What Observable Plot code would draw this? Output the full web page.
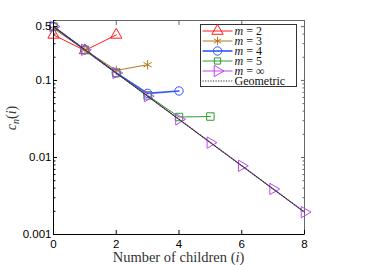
<!DOCTYPE html>
<html><head><meta charset="utf-8">
<script src="https://cdn.jsdelivr.net/npm/d3@7"></script>
<script src="https://cdn.jsdelivr.net/npm/@observablehq/plot@0.6"></script>
<style>body{margin:0;background:#fff}#c{position:relative;width:374px;height:265px}</style>
</head><body><div id="c"></div>
<script>
// ---- data ----
const seriesNames = ["m = 2", "m = 3", "m = 4", "m = 5", "m = ∞", "Geometric"];
const legendSuffix = ["2", "3", "4", "5", "∞"];
const m2 = [0.39, 0.245, 0.39];
const m3 = [0.47, 0.25, 0.135, 0.16];
const m4 = [0.5, 0.25, 0.125, 0.068, 0.073];
const m5 = [0.5, 0.25, 0.125, 0.064, 0.0335, 0.034];
const mInf = [0.5, 0.25, 0.125, 0.0625, 0.0313, 0.0156, 0.0078, 0.0039, 0.00195];
const geometric = [0.5, 0.25, 0.125, 0.0625, 0.03125, 0.015625, 0.0078125, 0.00390625, 0.001953125];
const xTicks = [0, 2, 4, 6, 8];
const yLabelTicks = [0.001, 0.01, 0.1, 0.5];
const yMinorTicks = [0.002,0.003,0.004,0.005,0.006,0.007,0.008,0.009,0.02,0.03,0.04,0.05,0.06,0.07,0.08,0.09,0.2,0.3,0.4,0.6];

const colors = ["#ff1a1a", "#b5791a", "#3355ff", "#2e9e2e", "#c044f5", "#333333"];
const symbols = ["triangle", "asterisk", "circle", "square", "triangle"];
const rotations = [0, 0, 0, 0, 90];
const widths = [1, 1, 1.6, 1, 1];
const allSeries = [m2, m3, m4, m5, mInf];

const toRows = arr => arr.map((v, i) => ({i, v}));

const marks = [];
allSeries.forEach((s, k) => {
  marks.push(Plot.line(toRows(s), {x: "i", y: "v", stroke: colors[k], strokeWidth: widths[k]}));
});
allSeries.forEach((s, k) => {
  marks.push(Plot.dot(toRows(s), {x: "i", y: "v", symbol: symbols[k], r: k === 1 ? 4.5 : 4.2, stroke: colors[k], fill: "none", rotate: rotations[k], strokeWidth: 1}));
});
marks.push(Plot.line(toRows(geometric), {x: "i", y: "v", stroke: "#333", strokeWidth: 1.2, strokeDasharray: "1.2,1.4"}));

const tickFont = "Liberation Sans, Arial, sans-serif";
const plot = Plot.plot({
  width: 374, height: 265,
  marginLeft: 53, marginRight: 70, marginTop: 20, marginBottom: 31,
  style: {fontFamily: tickFont, fontSize: "11.5px", color: "#000", background: "#fff", overflow: "visible"},
  x: {domain: [0, 8]},
  y: {type: "log", domain: [0.001, 0.6]},
  marks: [
    Plot.frame({stroke: "#666", strokeWidth: 1}),
    ...marks,
    // x axis labels + inward ticks (bottom and top)
    Plot.text(xTicks, {x: d => d, frameAnchor: "bottom", dy: 13, text: d => String(d), fontSize: 11.5, textAnchor: "middle"}),
    Plot.axisX({ticks: xTicks, tickSize: -4, fill: "none", label: null, anchor: "bottom"}),
    Plot.axisX({ticks: xTicks, tickSize: -4, fill: "none", label: null, anchor: "top", stroke: "#666"}),
    // y axis labels + inward ticks (left and right)
    Plot.text(yLabelTicks, {y: d => d, frameAnchor: "left", dx: -2, text: d => String(d), fontSize: 11.5, textAnchor: "end"}),
    Plot.axisY({ticks: yLabelTicks, tickSize: -4, fill: "none", label: null, anchor: "left"}),
    Plot.axisY({ticks: yMinorTicks, tickSize: -2.5, fill: "none", label: null, anchor: "left"}),
    Plot.axisY({ticks: yLabelTicks, tickSize: -4, fill: "none", label: null, anchor: "right", stroke: "#666"}),
    Plot.axisY({ticks: yMinorTicks, tickSize: -2.5, fill: "none", label: null, anchor: "right", stroke: "#666"}),
    Plot.ruleX([0], {stroke: "#000"}),
    Plot.ruleY([0.001], {stroke: "#000"})
  ]
});
document.getElementById("c").appendChild(plot);

// ---- axis titles & legend (real text) ----
const svg = d3.select(plot);
const serif = "Liberation Serif, DejaVu Serif, serif";
const xl = svg.append("text").attr("x", 178.5).attr("y", 262).attr("text-anchor", "middle")
  .attr("font-family", serif).attr("font-size", 14.5).attr("fill", "#333");
xl.append("tspan").text("Number of children (");
xl.append("tspan").attr("font-style", "italic").text("i");
xl.append("tspan").text(")");

const yl = svg.append("text").attr("transform", "translate(16,118) rotate(-90)").attr("text-anchor", "middle")
  .attr("font-family", serif).attr("font-size", 14).attr("fill", "#333");
yl.append("tspan").attr("font-style", "italic").text("c");
yl.append("tspan").attr("font-style", "italic").attr("font-size", 10).attr("dy", 3).text("n");
yl.append("tspan").attr("dy", -3).text("(");
yl.append("tspan").attr("font-style", "italic").text("i");
yl.append("tspan").text(")");

const lg = svg.append("g").attr("transform", "translate(200.5,24.5)");
lg.append("rect").attr("width", 96).attr("height", 62).attr("fill", "#fff").attr("stroke", "#333").attr("stroke-width", 1);
seriesNames.forEach((name, k) => {
  const y = 6.5 + k * 10;
  const line = lg.append("line").attr("x1", 2).attr("x2", 32).attr("y1", y).attr("y2", y)
    .attr("stroke", colors[k]).attr("stroke-width", k < 5 ? widths[k] : 1.2);
  if (k === 5) line.attr("stroke-dasharray", "1.2,1.4");
  if (k < 5) {
    const symMap = {triangle: d3.symbolTriangle, asterisk: d3.symbolAsterisk, circle: d3.symbolCircle, square: d3.symbolSquare};
    const r = 4.2;
    const sizes = {triangle: r*r*Math.PI, asterisk: r*r*Math.PI*0.9, circle: Math.PI*r*r, square: r*r*Math.PI*0.7};
    lg.append("path").attr("d", d3.symbol(symMap[symbols[k]], sizes[symbols[k]])())
      .attr("transform", `translate(17,${y}) rotate(${rotations[k]})`)
      .attr("fill", "none").attr("stroke", colors[k]);
  }
  const t = lg.append("text").attr("x", 34).attr("y", y + 4).attr("text-anchor", "start")
    .attr("font-family", serif).attr("font-size", 12).attr("fill", "#111");
  if (k < 5) {
    t.append("tspan").attr("font-style", "italic").text("m");
    t.append("tspan").text(" = " + legendSuffix[k]);
  } else {
    t.text(name);
  }
});
</script></body></html>
